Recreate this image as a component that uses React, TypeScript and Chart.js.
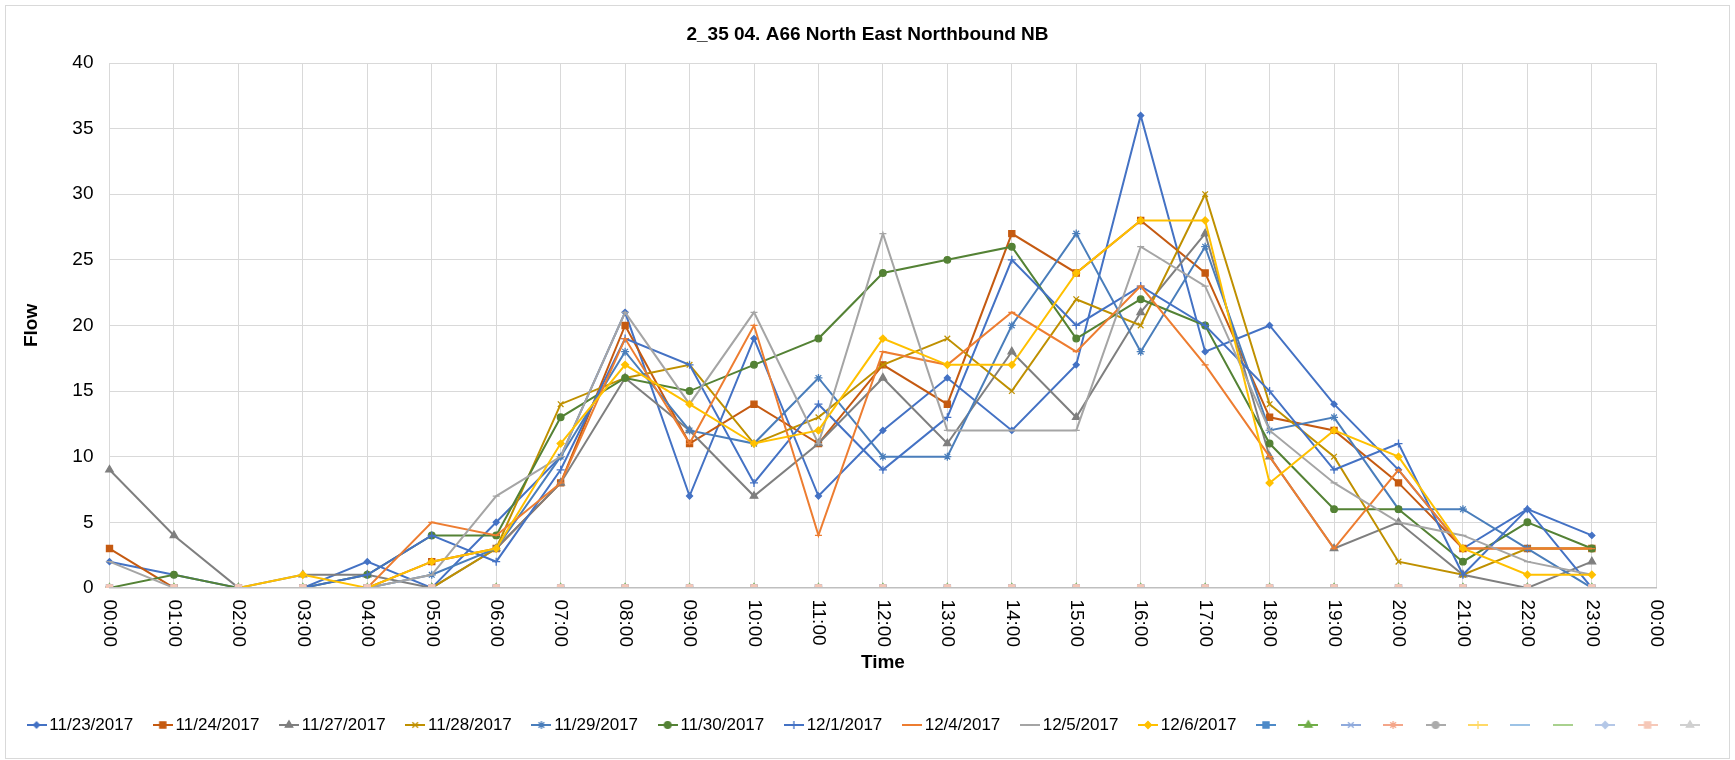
import React, { useEffect, useRef } from 'react';
import { Chart, registerables } from 'chart.js';
import { drawPoint } from 'chart.js/helpers';

Chart.register(...registerables);

const FONT = '"Liberation Sans", Arial, sans-serif';

const hourLabels = [
  '00:00', '01:00', '02:00', '03:00', '04:00', '05:00', '06:00', '07:00', '08:00', '09:00',
  '10:00', '11:00', '12:00', '13:00', '14:00', '15:00', '16:00', '17:00', '18:00', '19:00',
  '20:00', '21:00', '22:00', '23:00', '00:00',
];

const seriesNames = [
  '11/23/2017', '11/24/2017', '11/27/2017', '11/28/2017', '11/29/2017',
  '11/30/2017', '12/1/2017', '12/4/2017', '12/5/2017', '12/6/2017',
];

const d1123 = [2, 1, 0, 0, 2, 0, 5, 10, 21, 7, 19, 7, 12, 16, 12, 17, 36, 18, 20, 14, 9, 3, 6, 4];
const d1124 = [3, 0, 0, 0, 0, 2, 3, 8, 20, 11, 14, 11, 17, 14, 27, 24, 28, 24, 13, 12, 8, 3, 3, 3];
const d1127 = [9, 4, 0, 1, 1, 0, 3, 8, 16, 12, 7, 11, 16, 11, 18, 13, 21, 27, 10, 3, 5, 1, 0, 2];
const d1128 = [0, 0, 0, 0, 0, 0, 3, 14, 16, 17, 11, 13, 17, 19, 15, 22, 20, 30, 14, 10, 2, 1, 3, 3];
const d1129 = [0, 0, 0, 0, 0, 1, 3, 10, 18, 12, 11, 16, 10, 10, 20, 27, 18, 26, 12, 13, 6, 6, 3, 0];
const d1130 = [0, 1, 0, 0, 1, 4, 4, 13, 16, 15, 17, 19, 24, 25, 26, 19, 22, 20, 11, 6, 6, 2, 5, 3];
const d1201 = [0, 0, 0, 0, 1, 4, 2, 9, 19, 17, 8, 14, 9, 13, 25, 20, 23, 20, 15, 9, 11, 1, 6, 0];
const d1204 = [0, 0, 0, 0, 0, 5, 4, 8, 19, 11, 20, 4, 18, 17, 21, 18, 23, 17, 10, 3, 9, 3, 3, 3];
const d1205 = [2, 0, 0, 0, 0, 1, 7, 10, 21, 14, 21, 11, 27, 12, 12, 12, 26, 23, 12, 8, 5, 4, 2, 1];
const d1206 = [0, 0, 0, 1, 0, 2, 3, 11, 17, 14, 11, 12, 19, 17, 17, 24, 28, 28, 8, 12, 10, 3, 1, 1];

const seriesValues = [d1123, d1124, d1127, d1128, d1129, d1130, d1201, d1204, d1205, d1206];

// unnamed series shown in the legend only by their markers; most lie flat on zero
const zeroRow = [0, 0, 0, 0, 0, 0, 0, 0, 0, 0, 0, 0, 0, 0, 0, 0, 0, 0, 0, 0, 0, 0, 0, 0];
const extraValues = [
  zeroRow, zeroRow, zeroRow, zeroRow, zeroRow, zeroRow, zeroRow, zeroRow, zeroRow, zeroRow, [],
];

const seriesColors = [
  '#4472C4', '#C55A11', '#7F7F7F', '#BF9000', '#4A7EBB',
  '#548235', '#4472C4', '#ED7D31', '#A5A5A5', '#FFC000',
];
const seriesStyles = ['rectRot', 'rect', 'triangle', 'crossRot', 'star', 'circle', 'cross', 'line', 'line', 'rectRot'];
const seriesRadii = [3, 4.3, 4.3, 4, 4, 3.3, 4, 3.5, 3.5, 3.5];

const extraColors = [
  '#4E8AC8', '#70AD47', '#8FAADC', '#F4A68A', '#ABABAB', '#FFD966',
  '#9DC3E6', '#A9D18E', '#B4C7E7', '#F6C8B8', '#D0D0D0',
];
const extraStyles = ['rect', 'triangle', 'crossRot', 'star', 'circle', 'cross', 'line', 'line', 'rectRot', 'rect', 'triangle'];
const extraRadii = [4.3, 4.3, 4, 4, 3.3, 4, 3.5, 3.5, 3.5, 4.3, 4.3];

function makeLegendImage(color: string, style: string, radius: number) {
  const c = document.createElement('canvas');
  c.width = 20;
  c.height = 12;
  const g = c.getContext('2d') as CanvasRenderingContext2D;
  g.strokeStyle = color;
  g.fillStyle = color;
  g.lineWidth = 2;
  g.beginPath();
  g.moveTo(0, 6);
  g.lineTo(20, 6);
  g.stroke();
  g.lineWidth = 1.3;
  drawPoint(g, { pointStyle: style as any, rotation: 0, radius, borderWidth: 1.3 } as any, 10, 6);
  return c;
}

const frameAndLabels = {
  id: 'frameAndLabels',
  beforeDraw(chart: any) {
    const ctx = chart.ctx;
    ctx.save();
    ctx.fillStyle = '#FFFFFF';
    ctx.fillRect(0, 0, chart.width, chart.height);
    ctx.restore();
  },
  afterDraw(chart: any) {
    const ctx = chart.ctx;
    const xs = chart.scales.x;
    ctx.save();
    ctx.font = `19px ${FONT}`;
    ctx.fillStyle = '#000000';
    ctx.textAlign = 'left';
    ctx.textBaseline = 'middle';
    hourLabels.forEach((lab, i) => {
      const x = xs.getPixelForTick(i);
      ctx.save();
      ctx.translate(x, chart.chartArea.bottom + 11.5);
      ctx.rotate(Math.PI / 2);
      ctx.fillText(lab, 0, 0);
      ctx.restore();
    });
    ctx.strokeStyle = '#D9D9D9';
    ctx.lineWidth = 1;
    ctx.strokeRect(5.5, 5.5, 1724, 753);
    ctx.restore();
  },
};

export default function App() {
  const ref = useRef<HTMLCanvasElement | null>(null);

  useEffect(() => {
    if (!ref.current) return;
    const mainSets = seriesValues.map((vals, i) => ({
      label: seriesNames[i],
      data: vals,
      borderColor: seriesColors[i],
      backgroundColor: seriesColors[i],
      pointBackgroundColor: seriesColors[i],
      pointBorderColor: seriesColors[i],
      pointStyle: seriesStyles[i],
      pointRadius: seriesRadii[i],
      pointBorderWidth: 1.3,
      borderWidth: 2,
      tension: 0,
      fill: false,
      order: -i,
    }));
    const extraSets = extraValues.map((vals, j) => ({
      label: '',
      data: vals,
      borderColor: extraColors[j],
      backgroundColor: extraColors[j],
      pointBackgroundColor: extraColors[j],
      pointBorderColor: extraColors[j],
      pointStyle: extraStyles[j],
      pointRadius: extraRadii[j],
      pointBorderWidth: 1.3,
      borderWidth: 2,
      tension: 0,
      fill: false,
      order: -(10 + j),
    }));
    const allColors = [...seriesColors, ...extraColors];
    const allStyles = [...seriesStyles, ...extraStyles];
    const allRadii = [...seriesRadii, ...extraRadii];
    const legendImages = allColors.map((c, i) => makeLegendImage(c, allStyles[i], allRadii[i]));

    const chart = new Chart(ref.current, {
      type: 'line',
      data: { labels: hourLabels, datasets: [...mainSets, ...extraSets] as any },
      plugins: [frameAndLabels],
      options: {
        animation: false,
        responsive: false,
        devicePixelRatio: 1,
        events: [],
        layout: { padding: { left: 6, right: 6, top: 0, bottom: 16.5 } },
        plugins: {
          title: {
            display: true,
            text: '2_35 04. A66 North East Northbound NB',
            color: '#000000',
            font: { family: FONT, size: 19, weight: 'bold' },
            padding: { top: 23.6, bottom: 16.6 },
          },
          legend: {
            position: 'bottom',
            labels: {
              usePointStyle: true,
              pointStyleWidth: 8.6,
              padding: 25.3,
              color: '#000000',
              font: { family: FONT, size: 17 },
              generateLabels: (ch: any) =>
                ch.data.datasets.map((ds: any, i: number) => ({
                  text: ds.label,
                  fillStyle: allColors[i],
                  strokeStyle: allColors[i],
                  lineWidth: 0,
                  pointStyle: legendImages[i],
                  hidden: false,
                  datasetIndex: i,
                  fontColor: '#000000',
                })),
            },
          },
          tooltip: { enabled: false },
        },
        scales: {
          x: {
            type: 'category',
            offset: false,
            grid: { color: '#D9D9D9', drawTicks: false },
            border: { color: '#BFBFBF', width: 1.5, z: 1 },
            ticks: { display: false, autoSkip: false },
            title: {
              display: true,
              text: 'Time',
              color: '#000000',
              font: { family: FONT, size: 19, weight: 'bold' },
              padding: { top: 0, bottom: 16.6 },
            },
            afterFit: (s: any) => { s.height = 103.3; },
          },
          y: {
            min: 0,
            max: 40,
            ticks: { stepSize: 5, padding: 16, color: '#000000', font: { family: FONT, size: 19 } },
            grid: { color: '#D9D9D9', drawTicks: false },
            border: { color: '#D9D9D9' },
            title: {
              display: true,
              text: 'Flow',
              color: '#000000',
              font: { family: FONT, size: 19, weight: 'bold' },
              padding: { top: 14.6, bottom: 0 },
            },
            afterFit: (s: any) => { s.width = 103.5; },
          },
          yRight: {
            position: 'right',
            display: true,
            grid: { display: false, drawOnChartArea: false },
            border: { display: false },
            ticks: { display: false },
            afterFit: (s: any) => { s.width = 72.7; },
          },
        },
      } as any,
    });
    return () => chart.destroy();
  }, []);

  return (
    <div style={{ position: 'absolute', left: 0, top: 0, width: 1735, height: 760, background: '#FFFFFF' }}>
      <canvas ref={ref} width={1735} height={760} style={{ width: 1735, height: 760, display: 'block' }} />
    </div>
  );
}
